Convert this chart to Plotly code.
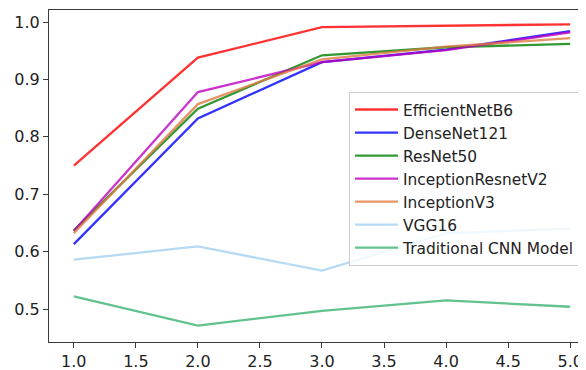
import plotly.graph_objects as go

epochs = [1, 2, 3, 4, 5]
efficientnetb6 = [0.750, 0.938, 0.991, 0.993, 0.996]
densenet121 = [0.613, 0.832, 0.930, 0.952, 0.984]
resnet50 = [0.637, 0.849, 0.942, 0.956, 0.962]
inceptionresnetv2 = [0.636, 0.878, 0.930, 0.951, 0.982]
inceptionv3 = [0.632, 0.857, 0.935, 0.957, 0.972]
vgg16 = [0.586, 0.609, 0.567, 0.632, 0.640]
traditional_cnn = [0.522, 0.471, 0.497, 0.515, 0.504]

series = [
    ("EfficientNetB6", efficientnetb6, "#ff0000"),
    ("DenseNet121", densenet121, "#0000ff"),
    ("ResNet50", resnet50, "#008000"),
    ("InceptionResnetV2", inceptionresnetv2, "#bf00bf"),
    ("InceptionV3", inceptionv3, "#e07a40"),
    ("VGG16", vgg16, "#a6d2f2"),
    ("Traditional CNN Model", traditional_cnn, "#3cb371"),
]

fig = go.Figure()
for i, (name, vals, color) in enumerate(series):
    fig.add_trace(go.Scatter(
        x=epochs, y=vals, mode="lines", name=name,
        line=dict(color=color, width=2.3), opacity=0.8,
    ))

font = dict(family="DejaVu Sans", size=16, color="#222")
legend_font = dict(family="DejaVu Sans", size=15.4, color="#222")
# the page body has an 8px margin, so the figure is sized/offset to compensate
fig.update_layout(
    width=578, height=362,
    margin=dict(l=41, r=0, t=2, b=28),
    paper_bgcolor="white", plot_bgcolor="white",
    font=font,
    showlegend=True,
    legend=dict(
        x=0.5587, y=0.753, xanchor="left", yanchor="top",
        bgcolor="rgba(255,255,255,0.8)", bordercolor="#cccccc", borderwidth=1,
        font=legend_font, itemwidth=43,
    ),
    xaxis=dict(
        range=[0.8, 5.1276], tickvals=[1.0, 1.5, 2.0, 2.5, 3.0, 3.5, 4.0, 4.5, 5.0],
        ticktext=["1.0", "1.5", "2.0", "2.5", "3.0", "3.5", "4.0", "4.5", "5.0"],
        showgrid=False, zeroline=False, showline=True, mirror=True,
        linecolor="#3a3a3a", linewidth=1.2, ticks="outside", ticklen=5,
        tickcolor="#3a3a3a", tickfont=font, automargin=False,
    ),
    yaxis=dict(
        range=[0.4426, 1.0209], tickvals=[0.5, 0.6, 0.7, 0.8, 0.9, 1.0],
        ticktext=["0.5", "0.6", "0.7", "0.8", "0.9", "1.0"],
        showgrid=False, zeroline=False, showline=True, mirror=False,
        linecolor="#3a3a3a", linewidth=1.2, ticks="outside", ticklen=5,
        tickcolor="#3a3a3a", tickfont=font, automargin=False,
    ),
)

fig.write_html("out.html")
